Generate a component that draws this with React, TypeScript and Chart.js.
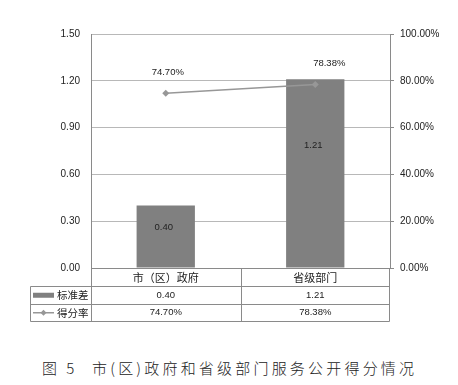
import { useEffect, useRef } from 'react';
import { Chart, registerables } from 'chart.js';

Chart.register(...registerables);

const categories = ['市（区）政府', '省级部门'];
const stdDev = [0.4, 1.21];
const scoreRate = [0.747, 0.7838];
const seriesNames = ['标准差', '得分率'];
const stdDevLabels = ['0.40', '1.21'];
const scoreRateLabels = ['74.70%', '78.38%'];
const captionPrefix = '图\u00a05';
const captionText = '市(区)政府和省级部门服务公开得分情况';

const BAR_COLOR = '#808080';
const LINE_COLOR = '#979797';
const GRID_COLOR = '#b8b8b8';
const AXIS_COLOR = '#8a8a8a';
const TEXT_COLOR = '#222';
const NUM_FONT = '"Liberation Sans", Arial, sans-serif';
const CJK_FONT = '"Noto Sans CJK SC", "Noto Sans", sans-serif';

export default function App() {
  const ref = useRef<HTMLCanvasElement>(null);

  useEffect(() => {
    document.body.style.margin = '0';
    const canvas = ref.current;
    if (!canvas) return;

    const labelsPlugin = {
      id: 'labelsAndTable',
      afterDatasetsDraw(chart: any) {
        const ctx = chart.ctx as CanvasRenderingContext2D;
        const yScale = chart.scales.y;
        const barMeta = chart.getDatasetMeta(0);
        const lineMeta = chart.getDatasetMeta(1);
        ctx.save();
        ctx.fillStyle = TEXT_COLOR;
        ctx.textAlign = 'center';
        ctx.textBaseline = 'middle';
        ctx.font = `9.5px ${NUM_FONT}`;
        barMeta.data.forEach((el: any, i: number) => {
          const y = yScale.getPixelForValue(stdDev[i] * 0.65);
          ctx.fillText(stdDevLabels[i], el.x - 2, y);
        });
        lineMeta.data.forEach((el: any, i: number) => {
          ctx.fillText(scoreRateLabels[i], el.x + (i === 1 ? 14 : 2), el.y - 21);
        });
        ctx.restore();
      },
      afterDraw(chart: any) {
        const ctx = chart.ctx as CanvasRenderingContext2D;
        const { left, right, bottom } = chart.chartArea;
        const xScale = chart.scales.x;
        const mid = Math.round((xScale.getPixelForValue(0) + xScale.getPixelForValue(1)) / 2) + 0.5;
        const tableLeft = 30.5;
        const rows = [bottom, bottom + 18, bottom + 35.5, bottom + 53];
        const L = Math.round(left) + 0.5;
        const R = Math.round(right) - 0.5;
        ctx.save();
        ctx.strokeStyle = AXIS_COLOR;
        ctx.lineWidth = 1;
        ctx.beginPath();
        ctx.moveTo(L, Math.round(rows[0]) + 0.5);
        ctx.lineTo(R, Math.round(rows[0]) + 0.5);
        for (let r = 1; r < rows.length; r++) {
          const y = Math.round(rows[r]) + 0.5;
          ctx.moveTo(tableLeft, y);
          ctx.lineTo(R, y);
        }
        ctx.moveTo(tableLeft, Math.round(rows[1]) + 0.5);
        ctx.lineTo(tableLeft, Math.round(rows[3]) + 0.5);
        [L, mid, R].forEach((x) => {
          ctx.moveTo(x, Math.round(rows[0]) + 0.5);
          ctx.lineTo(x, Math.round(rows[3]) + 0.5);
        });
        ctx.stroke();

        const rowMid1 = (rows[1] + rows[2]) / 2 + 0.5;
        const rowMid2 = (rows[2] + rows[3]) / 2 + 0.5;
        const centers = [0, 1].map((i) => xScale.getPixelForValue(i));
        ctx.fillStyle = TEXT_COLOR;
        ctx.textAlign = 'center';
        ctx.textBaseline = 'middle';
        ctx.font = `9.5px ${NUM_FONT}`;
        centers.forEach((cx: number, i: number) => {
          ctx.fillText(stdDevLabels[i], cx, rowMid1);
          ctx.fillText(scoreRateLabels[i], cx, rowMid2);
        });

        ctx.fillStyle = BAR_COLOR;
        ctx.fillRect(33, rowMid1 - 2.5, 21, 5);
        ctx.strokeStyle = LINE_COLOR;
        ctx.lineWidth = 1.5;
        ctx.beginPath();
        ctx.moveTo(33, rowMid2);
        ctx.lineTo(54, rowMid2);
        ctx.stroke();
        ctx.fillStyle = LINE_COLOR;
        ctx.beginPath();
        ctx.moveTo(43.5, rowMid2 - 3);
        ctx.lineTo(46.5, rowMid2);
        ctx.lineTo(43.5, rowMid2 + 3);
        ctx.lineTo(40.5, rowMid2);
        ctx.closePath();
        ctx.fill();

        ctx.fillStyle = TEXT_COLOR;
        ctx.textAlign = 'left';
        ctx.font = `10.5px ${CJK_FONT}`;
        ctx.fillText(seriesNames[0], 57, rowMid1);
        ctx.fillText(seriesNames[1], 57, rowMid2);
        ctx.restore();
      },
    };

    const chart = new Chart(canvas, {
      type: 'bar',
      data: {
        labels: categories,
        datasets: [
          {
            type: 'bar',
            label: seriesNames[0],
            data: stdDev,
            backgroundColor: BAR_COLOR,
            borderWidth: 0,
            barPercentage: 0.39,
            categoryPercentage: 1,
            yAxisID: 'y',
            order: 2,
          },
          {
            type: 'line',
            label: seriesNames[1],
            data: scoreRate,
            borderColor: LINE_COLOR,
            backgroundColor: LINE_COLOR,
            borderWidth: 1.5,
            pointStyle: 'rectRot',
            pointRadius: 3.5,
            pointBackgroundColor: LINE_COLOR,
            pointBorderWidth: 0,
            yAxisID: 'y1',
            order: 1,
          },
        ],
      },
      options: {
        responsive: false,
        animation: false,
        devicePixelRatio: 1,
        layout: { padding: { top: 34, left: 0, right: 0, bottom: 0 } },
        plugins: {
          legend: { display: false },
          tooltip: { enabled: false },
          title: { display: false },
        },
        scales: {
          x: {
            type: 'category',
            grid: { display: false, drawTicks: false },
            border: { display: true, color: AXIS_COLOR },
            ticks: {
              padding: 3,
              color: TEXT_COLOR,
              font: { size: 11, family: CJK_FONT },
            },
            afterFit(scale: any) {
              scale.height = 72;
            },
          },
          y: {
            position: 'left',
            min: 0,
            max: 1.5,
            ticks: {
              stepSize: 0.3,
              padding: 11,
              color: TEXT_COLOR,
              font: { size: 10, family: NUM_FONT },
              callback: (v: any) => Number(v).toFixed(2),
            },
            grid: { color: GRID_COLOR, drawTicks: false },
            border: { display: true, color: AXIS_COLOR },
            afterFit(scale: any) {
              scale.width = 91;
            },
          },
          y1: {
            position: 'right',
            min: 0,
            max: 1,
            ticks: {
              stepSize: 0.2,
              padding: 6,
              color: TEXT_COLOR,
              font: { size: 10, family: NUM_FONT },
              callback: (v: any) => `${(Number(v) * 100).toFixed(2)}%`,
            },
            grid: { drawOnChartArea: false, drawTicks: true, tickLength: 4, color: AXIS_COLOR },
            border: { display: true, color: AXIS_COLOR },
            afterFit(scale: any) {
              scale.width = 68;
            },
          },
        },
      },
      plugins: [labelsPlugin],
    } as any);

    return () => chart.destroy();
  }, []);

  return (
    <div style={{ position: 'relative', width: 458, height: 385, background: '#fff', overflow: 'hidden' }}>
      <canvas ref={ref} width={458} height={340} style={{ display: 'block', width: 458, height: 340 }} />
      <div
        style={{
          position: 'absolute',
          left: 42,
          top: 358,
          fontSize: 15,
          lineHeight: '20px',
          letterSpacing: '3px',
          fontWeight: 300,
          color: '#222',
          fontFamily: CJK_FONT,
          whiteSpace: 'pre',
        }}
      >
        {captionPrefix}
      </div>
      <div
        style={{
          position: 'absolute',
          left: 92,
          top: 358,
          fontSize: 15,
          lineHeight: '20px',
          letterSpacing: '3.2px',
          fontWeight: 300,
          color: '#222',
          fontFamily: CJK_FONT,
          whiteSpace: 'nowrap',
        }}
      >
        {captionText}
      </div>
    </div>
  );
}
